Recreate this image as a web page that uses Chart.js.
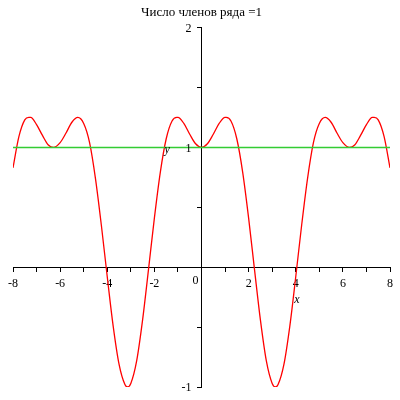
<!DOCTYPE html>
<html>
<head>
<meta charset="utf-8">
<title>Число членов ряда =1</title>
<script src="https://cdn.jsdelivr.net/npm/chart.js@4.4.0/dist/chart.umd.min.js"></script>
<style>
  html, body { margin: 0; padding: 0; background: #fff; }
  #wrap { width: 400px; height: 400px; }
</style>
</head>
<body>
<div id="wrap"><canvas id="chart" width="400" height="400"></canvas></div>
<script>
// ===== DATA =====
const xValues = [
  -8, -7.75, -7.5, -7.33, -7.25, -7, -6.75, -6.5, -6.28, -6, -5.75, -5.5, -5.25, -5, -4.75, -4.5,
  -4.25, -4, -3.75, -3.5, -3.25, -3.14, -3, -2.75, -2.5, -2.25, -2, -1.75, -1.5, -1.25, -1.05, -1,
  -0.75, -0.5, -0.25, 0, 0.25, 0.5, 0.75, 1, 1.05, 1.25, 1.5, 1.75, 2, 2.25, 2.5,
  2.75, 3, 3.14, 3.25, 3.5, 3.75, 4, 4.25, 4.5, 4.75, 5, 5.25, 5.5, 5.75, 6, 6.28,
  6.5, 6.75, 7, 7.25, 7.33, 7.5, 7.75, 8
];
const seriesValues = [
  0.83, 1.09, 1.23, 1.25, 1.25, 1.19, 1.10, 1.02, 1.00, 1.04, 1.12, 1.21, 1.25, 1.20, 1.04, 0.74,
  0.35, -0.08, -0.49, -0.81, -0.98, -1.00, -0.97, -0.78, -0.44, -0.02, 0.41, 0.79, 1.07, 1.22, 1.25, 1.25,
  1.20, 1.11, 1.03, 1.00, 1.03, 1.11, 1.20, 1.25, 1.25, 1.22, 1.07, 0.79, 0.41, -0.02, -0.44,
  -0.78, -0.97, -1.00, -0.98, -0.81, -0.49, -0.08, 0.35, 0.74, 1.04, 1.20, 1.25, 1.21, 1.12, 1.04, 1.00,
  1.02, 1.10, 1.19, 1.25, 1.25, 1.23, 1.09, 0.83
];
const lineX = [-8, 8];
const lineY = [1, 1];
const xTickLabels = ['-8', '-6', '-4', '-2', '2', '4', '6', '8'];
const yTickLabels = ['-1', '1', '2'];
const originLabel = '0';
const axisNames = { x: 'x', y: 'y' };

const serif = 'Liberation Serif, Times New Roman, serif';

// ===== LABELS (Maple style: y numbers left of axis, names floating) =====
const labelPlugin = {
  id: 'mapleLabels',
  afterDraw(chart) {
    const { ctx, scales } = chart;
    const x0 = scales.x.getPixelForValue(0);
    const y0 = scales.y.getPixelForValue(0);
    ctx.save();
    ctx.fillStyle = '#000';
    ctx.font = '12px ' + serif;
    ctx.textAlign = 'right';
    ctx.textBaseline = 'middle';
    yTickLabels.forEach(function (t) {
      ctx.fillText(t, x0 - 10, scales.y.getPixelForValue(Number(t)) + 1);
    });
    ctx.fillText(originLabel, x0 - 3, y0 + 14);

    ctx.font = 'italic 12px ' + serif;
    ctx.textAlign = 'center';
    ctx.fillText(axisNames.x, scales.x.getPixelForValue(4.05), scales.y.getPixelForValue(-0.27));
    ctx.fillText(axisNames.y, scales.x.getPixelForValue(-1.46), scales.y.getPixelForValue(0.98));
    ctx.restore();
  }
};

new Chart(document.getElementById('chart'), {
  type: 'scatter',
  data: {
    datasets: [
      {
        data: lineX.map((x, i) => ({ x: x, y: lineY[i] })),
        showLine: true,
        borderColor: '#33cc33',
        borderWidth: 1.5,
        pointRadius: 0
      },
      {
        data: xValues.map((x, i) => ({ x: x, y: seriesValues[i] })),
        showLine: true,
        borderColor: '#ff0000',
        borderWidth: 1.3,
        pointRadius: 0,
        cubicInterpolationMode: 'monotone'
      }
    ]
  },
  options: {
    responsive: false,
    animation: false,
    events: [],
    layout: { padding: { left: 13, right: 10, top: 0, bottom: 13 } },
    plugins: {
      legend: { display: false },
      tooltip: { enabled: false },
      title: {
        display: true,
        text: 'Число членов ряда =1',
        color: '#000',
        font: { family: serif, size: 13, weight: 'normal' },
        padding: { top: 5, bottom: 7 }
      }
    },
    scales: {
      x: {
        type: 'linear',
        min: -8, max: 8,
        position: { y: 0 },
        border: { display: true, color: '#000', width: 1 },
        grid: { drawOnChartArea: false, drawTicks: true, tickLength: 4, color: '#000' },
        ticks: {
          stepSize: 1,
          autoSkip: false,
          maxRotation: 0,
          color: '#000',
          padding: 5,
          font: { family: serif, size: 12 },
          callback: v => xTickLabels.includes(String(v)) ? String(v) : ''
        }
      },
      y: {
        type: 'linear',
        min: -1, max: 2,
        position: { x: 0 },
        border: { display: true, color: '#000', width: 1 },
        grid: { drawOnChartArea: false, drawTicks: true, tickLength: 4, color: '#000' },
        ticks: {
          stepSize: 0.5,
          autoSkip: false,
          color: '#000',
          font: { family: serif, size: 12 },
          callback: () => ''
        }
      }
    }
  },
  plugins: [labelPlugin]
});
</script>
</body>
</html>
